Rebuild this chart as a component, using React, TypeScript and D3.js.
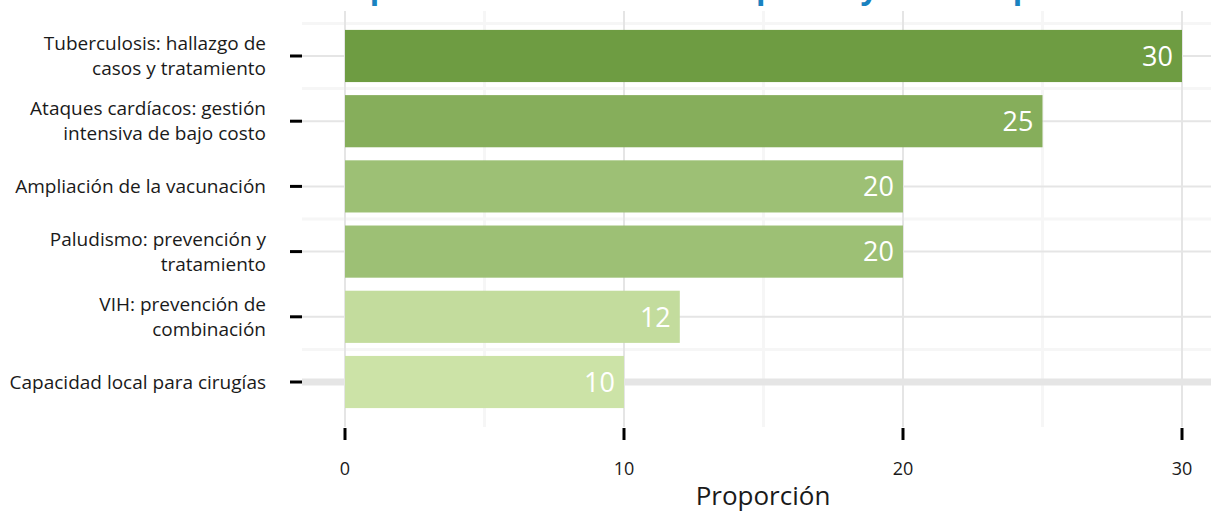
import * as d3 from "d3";

// Bars, top to bottom
const categories = [
  "Tuberculosis: hallazgo de\ncasos y tratamiento",
  "Ataques cardíacos: gestión\nintensiva de bajo costo",
  "Ampliación de la vacunación",
  "Paludismo: prevención y\ntratamiento",
  "VIH: prevención de\ncombinación",
  "Capacidad local para cirugías",
];
const values = [30, 25, 20, 20, 12, 10];

const xTicks = [0, 10, 20, 30];
const xMinorTicks = [5, 15, 25];
// faint row separators, drawn above the category at these indexes
const rowSeparators = [0, 1, 3, 5];
// row whose grid line is drawn heavy
const highlightRow = 5;

const title = "Opciones de intervención: precio y buen impacto";
const xTitle = "Proporción";

const W = 1211;
const H = 512;
const panel = { left: 302, right: 1211, top: 11, bottom: 427 };
const FONT = "'Open Sans', 'Noto Sans', sans-serif";

export default function App() {
  const x = d3.scaleLinear().domain([0, 30]).range([345, 1182]);
  const y = d3
    .scaleBand<string>()
    .domain(categories)
    .range([panel.top, panel.bottom])
    .paddingInner(0.2)
    .paddingOuter(0.29);
  const color = d3
    .scaleLinear<string>()
    .domain([10, 30])
    .range(["#cce3a7", "#6e9c42"])
    .interpolate(d3.interpolateRgb);

  const bw = y.bandwidth();
  const step = y.step();
  const cy = (c: string) => (y(c) ?? 0) + bw / 2;

  return (
    <svg
      width={W}
      height={H}
      style={{ position: "absolute", left: 0, top: 0, background: "#fff" }}
      fontFamily={FONT}
    >
      {/* title, cut off by the top edge as in the source */}
      <text x={345} y={-1} fill="#1a82c0" fontSize={31} fontWeight={700}>
        {title}
      </text>

      {/* faint row separators */}
      {rowSeparators.map((i) => (
        <line
          key={`sep-${i}`}
          x1={panel.left}
          x2={panel.right}
          y1={cy(categories[i]) - step / 2}
          y2={cy(categories[i]) - step / 2}
          stroke="#f6f6f6"
          strokeWidth={3}
        />
      ))}

      {/* minor vertical grid */}
      {xMinorTicks.map((t) => (
        <line
          key={`mx-${t}`}
          x1={x(t)}
          x2={x(t)}
          y1={panel.top}
          y2={panel.bottom}
          stroke="#f6f6f6"
          strokeWidth={3}
        />
      ))}

      {/* major grid */}
      {categories.map((c, i) => (
        <line
          key={`gy-${i}`}
          x1={panel.left}
          x2={panel.right}
          y1={cy(c)}
          y2={cy(c)}
          stroke="#e5e5e5"
          strokeWidth={i === highlightRow ? 7 : 2}
        />
      ))}
      {xTicks.map((t) => (
        <line
          key={`gx-${t}`}
          x1={x(t)}
          x2={x(t)}
          y1={panel.top}
          y2={panel.bottom}
          stroke="#e5e5e5"
          strokeWidth={2}
        />
      ))}

      {/* bars */}
      {categories.map((c, i) => (
        <rect
          key={`bar-${i}`}
          x={x(0)}
          y={y(c)}
          width={x(values[i]) - x(0)}
          height={bw}
          fill={color(values[i])}
        />
      ))}

      {/* value labels */}
      {categories.map((c, i) => (
        <text
          key={`val-${i}`}
          x={x(values[i]) - 9}
          y={cy(c)}
          dy="0.36em"
          textAnchor="end"
          fill="#fff"
          fontSize={27}
        >
          {values[i]}
        </text>
      ))}

      {/* y axis ticks and labels */}
      {categories.map((c, i) => {
        const lines = c.split("\n");
        const lh = 25;
        const y0 = cy(c) - ((lines.length - 1) * lh) / 2;
        return (
          <g key={`yl-${i}`}>
            <line x1={290} x2={302} y1={cy(c)} y2={cy(c)} stroke="#000" strokeWidth={3} />
            <text textAnchor="end" fontSize={19} fill="#1a1a1a">
              {lines.map((l, j) => (
                <tspan key={j} x={266} y={y0 + j * lh} dy="0.35em">
                  {l}
                </tspan>
              ))}
            </text>
          </g>
        );
      })}

      {/* x axis ticks and labels */}
      {xTicks.map((t) => (
        <g key={`xt-${t}`}>
          <line x1={x(t)} x2={x(t)} y1={428} y2={440} stroke="#000" strokeWidth={3} />
          <text x={x(t)} y={469} dy="0.35em" textAnchor="middle" fontSize={18} fill="#1a1a1a">
            {t}
          </text>
        </g>
      ))}

      <text x={763} y={496} dy="0.35em" textAnchor="middle" fontSize={26} fill="#1a1a1a">
        {xTitle}
      </text>
    </svg>
  );
}
